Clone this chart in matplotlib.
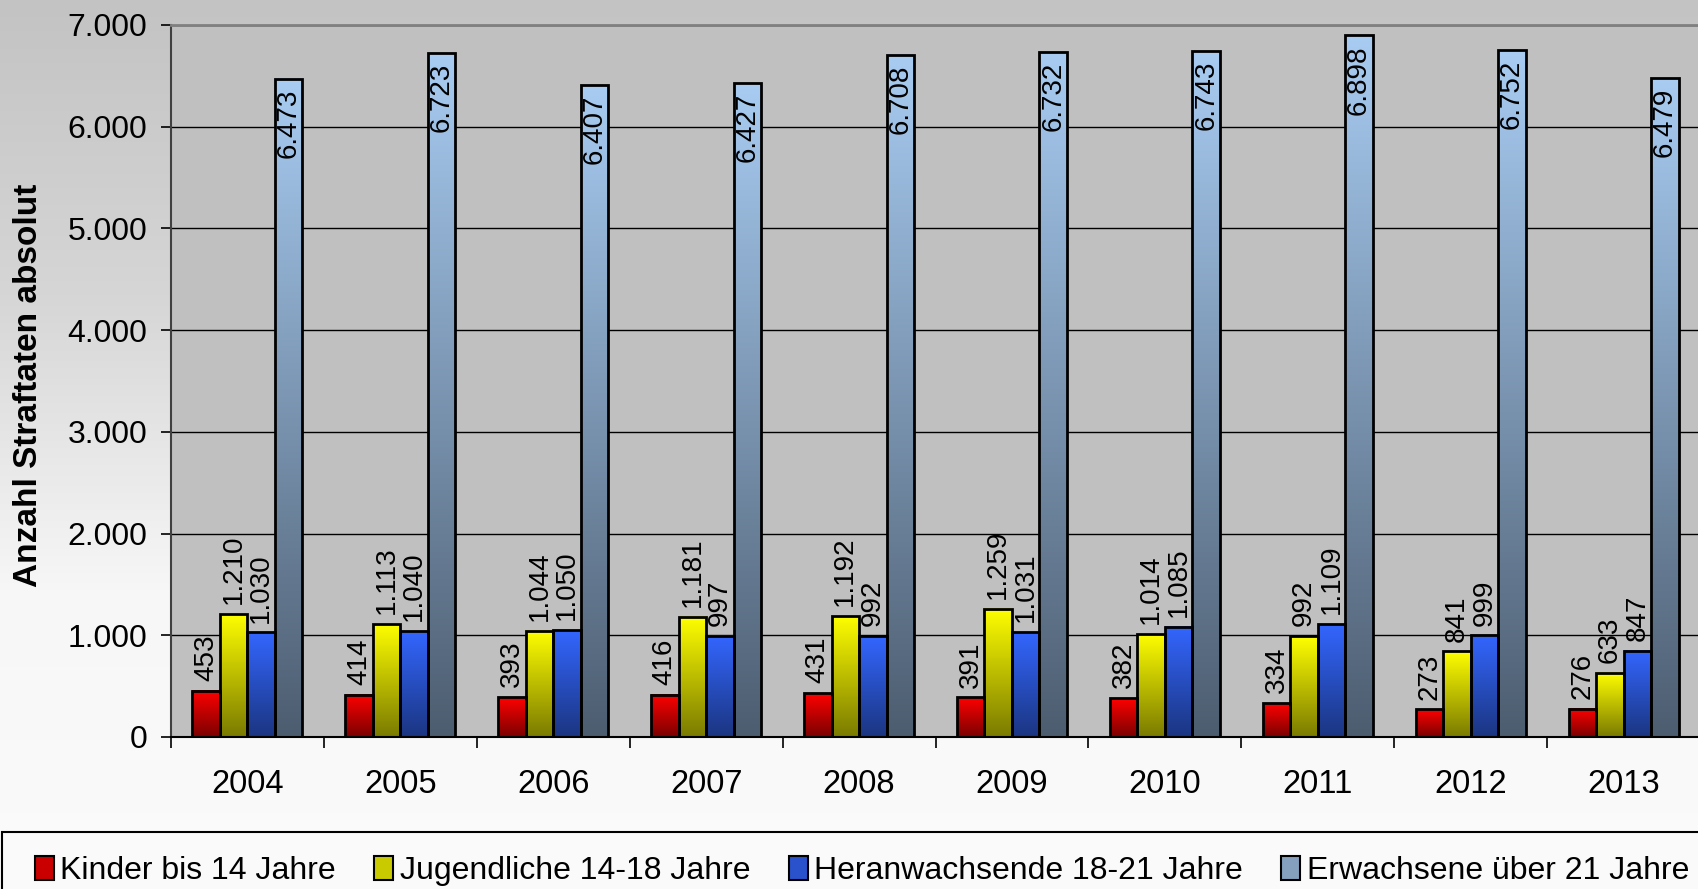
import numpy as np
import matplotlib
matplotlib.use("Agg")
import matplotlib.pyplot as plt
from matplotlib.colors import LinearSegmentedColormap
from matplotlib.patches import Rectangle, Patch

plt.rcParams['font.family'] = ['Liberation Sans', 'DejaVu Sans']

# data
years = ["2004", "2005", "2006", "2007", "2008", "2009", "2010", "2011", "2012", "2013"]
kinder = [453, 414, 393, 416, 431, 391, 382, 334, 273, 276]
jugendliche = [1210, 1113, 1044, 1181, 1192, 1259, 1014, 992, 841, 633]
heranwachsende = [1030, 1040, 1050, 997, 992, 1031, 1085, 1109, 999, 847]
erwachsene = [6473, 6723, 6407, 6427, 6708, 6732, 6743, 6898, 6752, 6479]
series_names = ["Kinder bis 14 Jahre", "Jugendliche 14-18 Jahre",
                "Heranwachsende 18-21 Jahre", "Erwachsene über 21 Jahre"]
series = [kinder, jugendliche, heranwachsende, erwachsene]

# (top colour, bottom colour) of each bar gradient
grads = [("#ff0000", "#7a0000"),
         ("#ffff00", "#7a7a00"),
         ("#3366ff", "#1b3580"),
         ("#a8ccf2", "#4d5d70")]


def fmt(v):
    return "{:,}".format(v).replace(",", ".")


W, H = 1698, 889
fig = plt.figure(figsize=(W / 100, H / 100), dpi=100)

# figure background gradient
bg = fig.add_axes([0, 0, 1, 1], zorder=-10)
g = np.linspace(0, 1, 256).reshape(-1, 1)
bg_cmap = LinearSegmentedColormap.from_list("bg", ["#c3c3c3", "#d6d6d6", "#f7f7f7", "#fbfbfb"])
bg.imshow(g, aspect="auto", cmap=bg_cmap, extent=[0, 1, 0, 1], origin="upper")
bg.set_axis_off()

# legend box
fig.patches.append(Rectangle((2 / W, -0.1), 1.2, (H - 832) / H + 0.1,
                             transform=fig.transFigure, fc="#fafafa",
                             ec="black", lw=1.5, zorder=-5))

ax = fig.add_axes([171 / W, (H - 737) / H, (1700 - 171) / W, (737 - 25) / H])
ax.set_facecolor("#c0c0c0")
ax.set_axisbelow(True)

n = len(years)
x = np.arange(n)
bw = 0.18
offsets = [-1.5, -0.5, 0.5, 1.5]

handles = []
for k, vals in enumerate(series):
    top, bottom = grads[k]
    cmap = LinearSegmentedColormap.from_list("c%d" % k, [top, bottom])
    xs = x + 0.5 + offsets[k] * bw
    bars = ax.bar(xs, vals, width=bw, facecolor="none", edgecolor="black",
                  linewidth=2.0, zorder=3)
    for b in bars:
        x0 = b.get_x()
        ax.imshow(g, aspect="auto", cmap=cmap, origin="upper", zorder=2,
                  extent=[x0, x0 + b.get_width(), 0, b.get_height()])
    for xi, v in zip(xs, vals):
        if k == 3:
            ax.annotate(fmt(v), (xi, v), xytext=(0, -7), textcoords="offset points",
                        rotation=90, ha="center", va="top", fontsize=20, zorder=4)
        else:
            ax.annotate(fmt(v), (xi, v), xytext=(0, 7), textcoords="offset points",
                        rotation=90, ha="center", va="bottom", fontsize=20, zorder=4)
    handles.append(Patch(facecolor=cmap(0.4), edgecolor="black", linewidth=1.5))

ax.set_xlim(0, n)
ax.set_ylim(0, 7000)
ax.set_xticks(np.arange(n + 1))
ax.set_xticklabels([])
ax.set_xticks(x + 0.5, minor=True)
ax.set_xticklabels(years, minor=True, fontsize=23.5)
ax.tick_params(axis="x", which="major", length=8, width=1.2, direction="out")
ax.tick_params(axis="x", which="minor", length=0, pad=23)
yt = np.arange(0, 7001, 1000)
ax.set_yticks(yt)
ax.set_yticklabels([fmt(int(v)) for v in yt], fontsize=23)
ax.tick_params(axis="y", length=7, width=1.2, direction="out", pad=10)
ax.yaxis.grid(True, color="black", linewidth=1)

ax.spines["right"].set_visible(False)
ax.spines["top"].set_color("#808080")
ax.spines["top"].set_linewidth(2)
ax.spines["left"].set_color("#404040")
ax.spines["left"].set_linewidth(1.5)
ax.spines["bottom"].set_color("black")
ax.spines["bottom"].set_linewidth(1.5)

fig.text(29 / W, 1 - 385 / H, "Anzahl Straftaten absolut", rotation=90,
         ha="center", va="center", fontsize=24, fontweight="bold")

fig.legend(handles, series_names, loc="center left",
           bbox_to_anchor=(22 / W, 1 - 871 / H), ncol=4, frameon=False,
           fontsize=23, handlelength=0.6, handleheight=0.8, handletextpad=0.2,
           columnspacing=1.2, borderaxespad=0)

fig.savefig("out.png", dpi=100)
